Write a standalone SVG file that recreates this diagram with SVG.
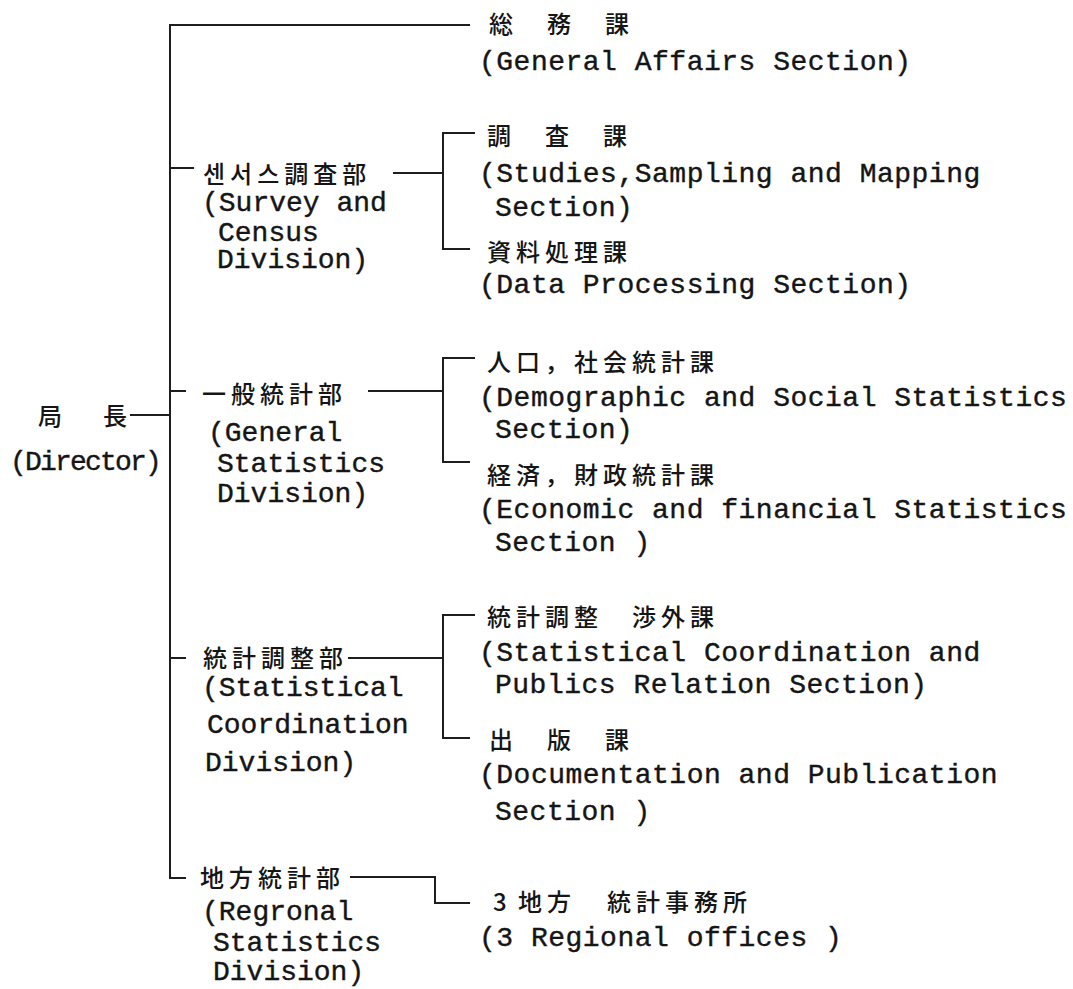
<svg xmlns="http://www.w3.org/2000/svg" width="1073" height="989" viewBox="0 0 1073 989">
<style>
.j{font-family:"Noto Sans CJK JP","Noto Sans CJK KR",sans-serif;font-size:24px;font-weight:500;letter-spacing:5px;fill:#151515}
.e{font-family:"Liberation Mono","Courier New",monospace;font-size:28px;letter-spacing:0.5px;fill:#151515;stroke:#151515;stroke-width:0.4}
.l{letter-spacing:0px}
.c{fill:none;stroke:#1e1e1e;stroke-width:2}
</style>
<rect width="1073" height="989" fill="#fff"/>
<g id="connectors" class="c">
<path d="M470,25 H170 V878 H186"/>
<path d="M130,415 H170"/>
<path d="M170,168 H194"/>
<path d="M170,391 H186"/>
<path d="M170,658 H186"/>
<path d="M393,173 H443"/>
<path d="M475,133 H443 V249 H470"/>
<path d="M368,391 H443"/>
<path d="M475,358 H443 V462 H470"/>
<path d="M348,658 H443"/>
<path d="M475,615 H443 V738 H470"/>
<path d="M350,877 H435 V903 H470"/>
</g>
<g id="director">
<text class="j" x="38 70 103" y="425">局 長</text>
<text class="e" x="10" y="470" style="letter-spacing:-1.8px">(Director)</text>
</g>
<g id="general-affairs">
<text class="j" x="489" y="33">総　務　課</text>
<text class="e" x="479" y="70">(General Affairs Section)</text>
</g>
<g id="survey-census">
<text class="j" x="203" y="183">센서스調査部</text>
<text class="e l" x="202" y="211">(Survey and</text>
<text class="e l" x="218" y="241">Census</text>
<text class="e l" x="217" y="268">Division)</text>
</g>
<g id="studies">
<text class="j" x="487" y="145">調　査　課</text>
<text class="e" x="479" y="182">(Studies,Sampling and Mapping</text>
<text class="e" x="495" y="216">Section)</text>
</g>
<g id="data-processing">
<text class="j" x="487" y="261">資料処理課</text>
<text class="e" x="479" y="293">(Data Processing Section)</text>
</g>
<g id="general-statistics">
<text class="j" x="202" y="403">一般統計部</text>
<text class="e l" x="208" y="441">(General</text>
<text class="e l" x="217" y="472">Statistics</text>
<text class="e l" x="217" y="502">Division)</text>
</g>
<g id="demographic">
<text class="j" x="487" y="371">人口，社会統計課</text>
<text class="e" x="479" y="406">(Demographic and Social Statistics</text>
<text class="e" x="495" y="438">Section)</text>
</g>
<g id="economic">
<text class="j" x="487" y="484">経済，財政統計課</text>
<text class="e" x="479" y="518">(Economic and financial Statistics</text>
<text class="e" x="495" y="551">Section )</text>
</g>
<g id="coordination">
<text class="j" x="203" y="667">統計調整部</text>
<text class="e l" x="202" y="696">(Statistical</text>
<text class="e l" x="207" y="733">Coordination</text>
<text class="e l" x="205" y="771">Division)</text>
</g>
<g id="public-relations">
<text class="j" x="487" y="626">統計調整　渉外課</text>
<text class="e" x="479" y="661">(Statistical Coordination and</text>
<text class="e" x="495" y="693">Publics Relation Section)</text>
</g>
<g id="publication">
<text class="j" x="489" y="749">出　版　課</text>
<text class="e" x="479" y="783">(Documentation and Publication</text>
<text class="e" x="495" y="820">Section )</text>
</g>
<g id="regional">
<text class="j" x="200" y="887">地方統計部</text>
<text class="e l" x="202" y="920">(Regronal</text>
<text class="e l" x="213" y="951">Statistics</text>
<text class="e l" x="213" y="980">Division)</text>
</g>
<g id="regional-offices">
<text class="j" x="493 507 518 547 576 607" y="911">3 地方 統計事務所</text>
<text class="e" x="479" y="946">(3 Regional offices )</text>
</g>
</svg>
